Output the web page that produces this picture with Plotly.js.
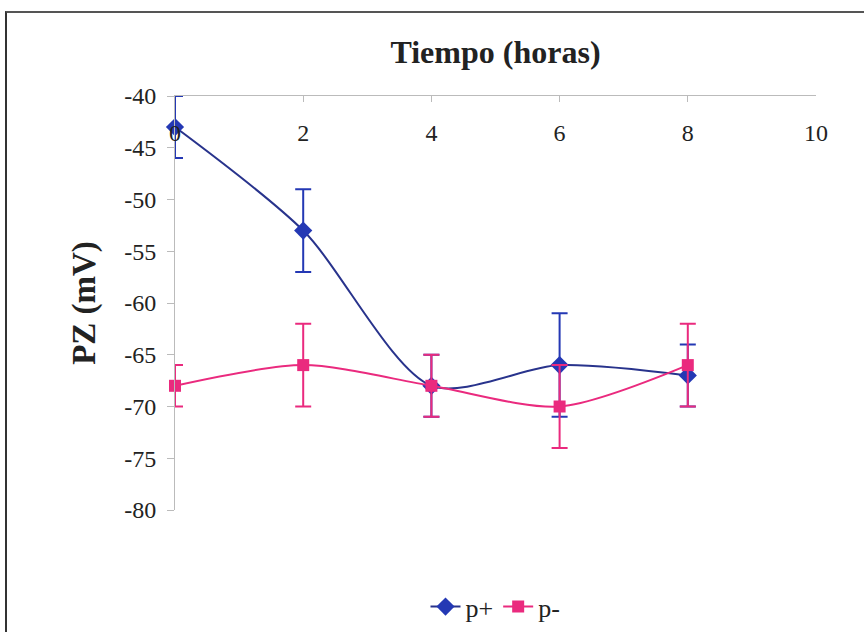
<!DOCTYPE html>
<html><head><meta charset="utf-8">
<script src="https://cdn.plot.ly/plotly-3.0.1.min.js"></script>
<style>
html,body{margin:0;padding:0;background:#fff;}
#wrap{position:relative;width:864px;height:632px;overflow:hidden;}
#chart{width:864px;height:632px;}
#frame{position:absolute;left:5px;top:11px;width:900px;height:700px;border-left:2px solid #333;border-top:2px solid #555;pointer-events:none;}
</style></head>
<body><div id="wrap"><div id="chart"></div><div id="frame"></div></div>
<script>
const hours = [0, 2, 4, 6, 8];
const pPlus = [-43, -53, -68, -66, -67];
const pPlusErr = [3, 4, 3, 5, 3];
const pMinus = [-68, -66, -68, -70, -66];
const pMinusErr = [2, 4, 3, 4, 4];
const xTicks = [0, 2, 4, 6, 8, 10];
const yTicks = [-40, -45, -50, -55, -60, -65, -70, -75, -80];

const SERIF = 'Liberation Serif';
const blue = '#2438b4', navy = '#28338c', pink = '#ea2a7e';
const traces = [
  {x: hours, y: pPlus, name: 'p+', type: 'scatter', mode: 'lines+markers', cliponaxis: false,
   line: {color: navy, width: 2, shape: 'spline', smoothing: 0.8},
   marker: {symbol: 'diamond', size: 14, color: blue},
   error_y: {type: 'data', array: pPlusErr, visible: true, color: blue, thickness: 2, width: 8}},
  {x: hours, y: pMinus, name: 'p-', type: 'scatter', mode: 'lines+markers', cliponaxis: false,
   line: {color: pink, width: 2, shape: 'spline', smoothing: 0.8},
   marker: {symbol: 'square', size: 12, color: pink},
   error_y: {type: 'data', array: pMinusErr, visible: true, color: pink, thickness: 2, width: 8}}
];
const layout = {
  width: 864, height: 632,
  margin: {l: 175, r: 48, t: 96, b: 122, autoexpand: false},
  paper_bgcolor: '#fff', plot_bgcolor: '#fff',
  font: {family: SERIF, size: 23, color: '#222'},
  showlegend: true,
  legend: {orientation: 'h', x: 0.5, xanchor: 'center', yref: 'container', y: 0.04, yanchor: 'middle',
           font: {family: SERIF, size: 26, color: '#222'}},
  xaxis: {range: [0, 10], side: 'top', tickvals: xTicks, ticktext: xTicks.map(String),
          showgrid: false, zeroline: false, showline: true, linecolor: '#bbb', linewidth: 1,
          ticks: 'inside', ticklen: 6, tickcolor: '#bbb',
          ticklabelposition: 'inside', ticklabelstandoff: 24, ticklabeloverflow: 'allow',
          tickfont: {family: SERIF, size: 24, color: '#222'},
          title: {text: '<b>Tiempo (horas)</b>', font: {family: SERIF, size: 32, color: '#222'}, standoff: 46}},
  yaxis: {range: [-80, -40], tickvals: yTicks, ticktext: yTicks.map(String),
          showgrid: false, zeroline: false, showline: true, linecolor: '#bbb', linewidth: 1,
          ticks: 'outside', ticklen: 7, tickcolor: '#bbb', ticklabelstandoff: 6,
          tickfont: {family: SERIF, size: 24, color: '#222'},
          title: {text: '<b>PZ (mV)</b>', font: {family: SERIF, size: 33, color: '#222'}, standoff: 18}}
};
Plotly.newPlot('chart', traces, layout, {displayModeBar: false, staticPlot: true});
</script></body></html>
